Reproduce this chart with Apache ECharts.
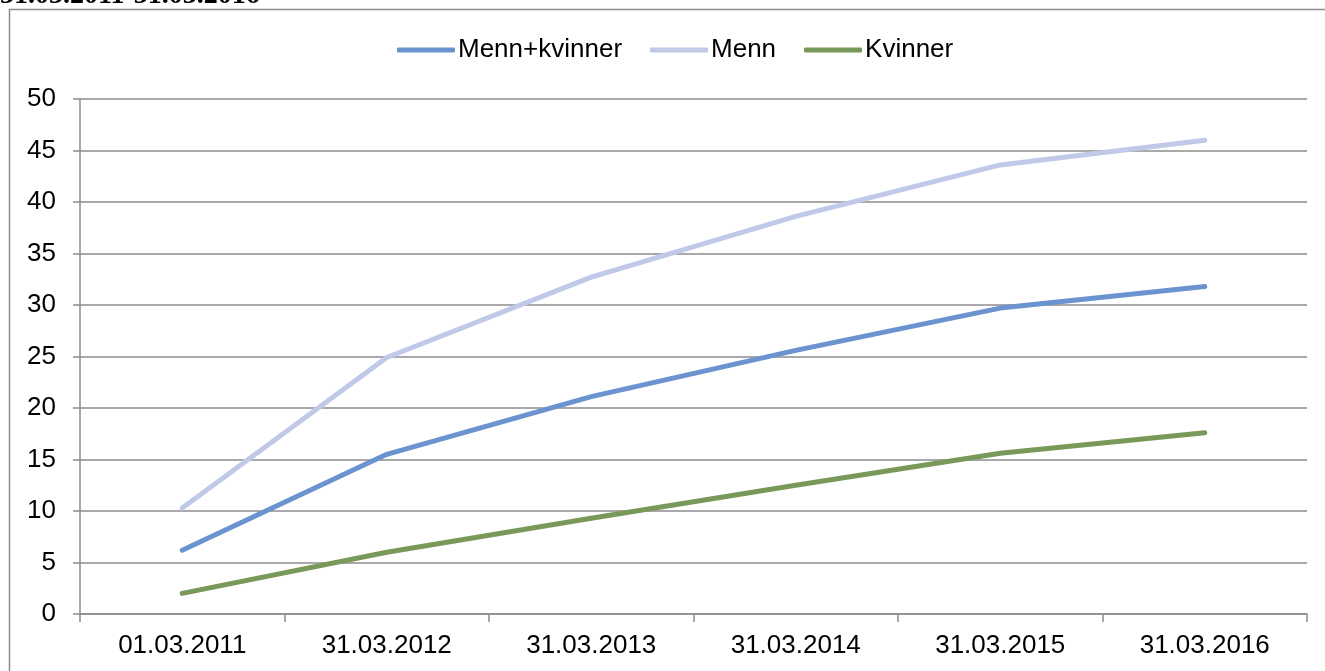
<!DOCTYPE html>
<html>
<head>
<meta charset="utf-8">
<script src="https://cdn.jsdelivr.net/npm/echarts@6/dist/echarts.min.js"></script>
<style>
html,body{margin:0;padding:0;background:#fff;}
#chart{width:1325px;height:671px;}
</style>
</head>
<body>
<div id="chart"></div>
<script>
// kategorier og verdier lest av bildet
var datoer = ["01.03.2011", "31.03.2012", "31.03.2013", "31.03.2014", "31.03.2015", "31.03.2016"];
var mennKvinner = [6.2, 15.5, 21.1, 25.6, 29.7, 31.8];
var menn = [10.3, 24.9, 32.7, 38.6, 43.6, 46.0];
var kvinner = [2.0, 6.0, 9.3, 12.5, 15.6, 17.6];
var yTicks = [0, 5, 10, 15, 20, 25, 30, 35, 40, 45, 50];

var myChart = echarts.init(document.getElementById("chart"));
var font = "'Liberation Sans', Arial, sans-serif";

function serie(navn, data, farge) {
	return {
		name : navn,
		type : 'line',
		data : data,
		symbol : 'none',
		lineStyle : { color : farge, width : 5, cap : 'round', join : 'round' },
		itemStyle : { color : farge },
		animation : false
	};
}

var option = {
	backgroundColor : '#fff',
	graphic : [ {
		type : 'rect',
		shape : { x : 9.5, y : 9.5, width : 1330, height : 680 },
		style : { fill : 'none', stroke : '#8c8c8c', lineWidth : 1.5 },
		silent : true
	}, {
		type : 'text',
		x : 0,
		y : 10,
		style : {
			text : '31.03.2011-31.03.2016',
			font : "bold 28px 'Liberation Serif', 'Times New Roman', serif",
			fill : '#000',
			verticalAlign : 'bottom'
		},
		silent : true
	} ],
	legend : {
		top : 32,
		left : 392,
		icon : 'roundRect',
		itemWidth : 58,
		itemHeight : 5,
		itemGap : 28,
		textStyle : { fontFamily : font, fontSize : 26, color : '#000', padding : [0, 0, 0, -2] },
		data : [ 'Menn+kvinner', 'Menn', 'Kvinner' ]
	},
	grid : { left : 80, right : 18, top : 99, bottom : 57, containLabel : false },
	xAxis : {
		type : 'category',
		data : datoer,
		boundaryGap : true,
		axisLine : { lineStyle : { color : '#8c8c8c', width : 1.5 } },
		axisTick : { show : true, length : 8, lineStyle : { color : '#8c8c8c', width : 1.5 } },
		axisLabel : { fontFamily : font, fontSize : 26, color : '#000', margin : 19 },
		splitLine : { show : false }
	},
	yAxis : {
		type : 'value',
		min : yTicks[0],
		max : yTicks[yTicks.length - 1],
		interval : 5,
		axisLine : { show : true, lineStyle : { color : '#8c8c8c', width : 1.5 } },
		axisTick : { show : true, length : 7, lineStyle : { color : '#8c8c8c', width : 1.5 } },
		axisLabel : { fontFamily : font, fontSize : 26, color : '#000', margin : 24 },
		splitLine : { show : true, lineStyle : { color : '#8c8c8c', width : 1.5 } }
	},
	series : [
		serie('Menn+kvinner', mennKvinner, '#6b93cf'),
		serie('Menn', menn, '#c0c9e8'),
		serie('Kvinner', kvinner, '#79995a')
	]
};
myChart.setOption(option);
</script>
</body>
</html>
